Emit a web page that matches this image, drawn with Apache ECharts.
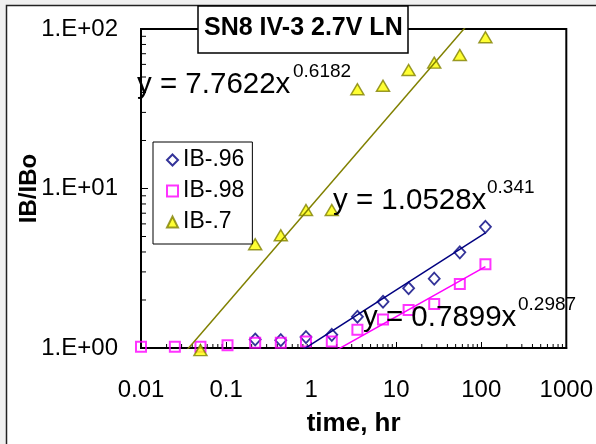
<!DOCTYPE html>
<html>
<head>
<meta charset="utf-8">
<script src="https://cdn.jsdelivr.net/npm/echarts@6/dist/echarts.min.js"></script>
<style>
  html, body { margin: 0; padding: 0; background: #f0f0f0; }
  #chart { width: 596px; height: 444px; }
</style>
</head>
<body>
<div id="chart"></div>
<script>
const FONT = '"Liberation Sans", Arial, sans-serif';

// Measured degradation ratios IB/IBo vs. elapsed time (hr)
const seriesNames = ['IB-.96', 'IB-.98', 'IB-.7'];
const timeIB96 = [0.22, 0.44, 0.87, 1.75, 3.5, 7, 14, 28, 56, 112];
const valIB96  = [1.13, 1.12, 1.17, 1.21, 1.57, 1.95, 2.37, 2.72, 3.98, 5.75];
const timeIB98 = [0.01, 0.025, 0.05, 0.104, 0.22, 0.44, 0.87, 1.75, 3.5, 7, 14, 28, 56, 112];
const valIB98  = [1.02, 1.02, 1.02, 1.04, 1.08, 1.08, 1.10, 1.10, 1.30, 1.51, 1.73, 1.89, 2.52, 3.35];
const timeIB7  = [0.05, 0.22, 0.44, 0.87, 1.75, 3.5, 7, 14, 28, 56, 112];
const valIB7   = [0.97, 4.47, 5.09, 7.33, 7.33, 41.9, 44.1, 55.3, 61.5, 68.7, 88.7];

// Power-law trend lines y = a * x^b (one per series)
const fitCoef = [1.0528, 0.7899, 7.7622];
const fitExp  = [0.341, 0.2987, 0.6182];
const fitRange = [0.01, 112];

// Axis tick labels, one per decade
const xTickLabels = ['0.01', '0.1', '1', '10', '100', '1000'];
const yTickLabels = ['1.E+00', '1.E+01', '1.E+02'];

const colors = {
  navy: '#000080', magenta: '#ff00ff', olive: '#808000', yellow: '#ffff00'
};

const zip = (xs, ys) => xs.map((x, i) => [x, ys[i]]);
const fitLine = (k) => fitRange.map(x => [x, fitCoef[k] * Math.pow(x, fitExp[k])]);

// Log minor ticks (2..9 within each decade)
const xMinor = [];
for (let e = -2; e <= 2; e++) for (let m = 2; m <= 9; m++) xMinor.push([m * Math.pow(10, e), 1]);
const yMinor = [];
for (let e = 0; e <= 1; e++) for (let m = 2; m <= 9; m++) yMinor.push([0.01, m * Math.pow(10, e)]);

function tickRenderer(dir, len) {
  return function (params, api) {
    const p = api.coord([api.value(0), api.value(1)]);
    const shape = dir === 'x'
      ? { x1: p[0], y1: p[1], x2: p[0], y2: p[1] - len }
      : { x1: p[0], y1: p[1], x2: p[0] + len, y2: p[1] };
    return { type: 'line', shape: shape, style: { stroke: '#000', lineWidth: 1 } };
  };
}

// Trend-line equation annotations
const eqLayout = [
  { x: 333, y: 200.5, sx: 487, sy: 188 },
  { x: 363, y: 318,   sx: 518, sy: 305 },
  { x: 137, y: 84.5,  sx: 293, sy: 72 }
];
const eqGraphics = [];
fitCoef.forEach((a, k) => {
  const L = eqLayout[k];
  eqGraphics.push({
    type: 'text', x: L.x, y: L.y, z: 100, silent: true,
    style: { text: 'y = ' + a.toFixed(4) + 'x', fontSize: 29.5, fontFamily: FONT,
             fill: '#000', align: 'left', verticalAlign: 'middle' }
  });
  eqGraphics.push({
    type: 'text', x: L.sx, y: L.sy, z: 100, silent: true,
    style: { text: String(fitExp[k]), fontSize: 19, fontFamily: FONT,
             fill: '#000', align: 'left', verticalAlign: 'middle' }
  });
});

const chart = echarts.init(document.getElementById('chart'), null, { renderer: 'canvas' });

chart.setOption({
  backgroundColor: '#f0f0f0',
  animation: false,
  graphic: [
    { type: 'rect', z: -100, silent: true,
      shape: { x: 6.5, y: 5.5, width: 640, height: 480 },
      style: { fill: '#fff', stroke: '#222', lineWidth: 1.5 } }
  ].concat(eqGraphics),
  title: {
    text: 'SN8 IV-3 2.7V LN',
    left: 198, top: 6,
    padding: [8, 6, 10, 6],
    backgroundColor: '#fff', borderColor: '#000', borderWidth: 1.5,
    textStyle: { fontSize: 25, fontWeight: 'bold', fontFamily: FONT, color: '#000', lineHeight: 29 }
  },
  legend: {
    data: seriesNames,
    orient: 'vertical',
    left: 153, top: 142,
    padding: [6, 8, 10, 13],
    itemGap: 7, itemWidth: 11, itemHeight: 11,
    backgroundColor: '#fff', borderColor: '#000', borderWidth: 1,
    selectedMode: false,
    textStyle: { fontSize: 23, fontFamily: FONT, color: '#000', lineHeight: 24 }
  },
  grid: {
    left: 141, right: 29, top: 29, bottom: 96,
    show: true, backgroundColor: '#fff', borderColor: '#000', borderWidth: 2
  },
  xAxis: {
    type: 'log', logBase: 10, min: 0.01, max: 1000, splitNumber: 5,
    axisLine: { show: true, lineStyle: { color: '#000', width: 2 } },
    axisTick: { show: true, inside: true, length: 6, lineStyle: { color: '#000', width: 1 } },
    splitLine: { show: false },
    axisLabel: {
      margin: 42, verticalAlign: 'middle', fontSize: 24, fontFamily: FONT, color: '#000',
      formatter: v => xTickLabels[Math.round(Math.log10(v)) + 2]
    },
    name: 'time, hr', nameLocation: 'middle', nameGap: 76, nameMoveOverlap: false,
    nameTextStyle: { fontSize: 26, fontWeight: 'bold', fontFamily: FONT, color: '#000', verticalAlign: 'middle' }
  },
  yAxis: {
    type: 'log', logBase: 10, min: 1, max: 100, splitNumber: 2,
    axisLine: { show: true, lineStyle: { color: '#000', width: 2 } },
    axisTick: { show: true, inside: true, length: 7, lineStyle: { color: '#000', width: 1 } },
    splitLine: { show: false },
    axisLabel: {
      margin: 23, fontSize: 24, fontFamily: FONT, color: '#000',
      formatter: v => yTickLabels[Math.round(Math.log10(v))]
    },
    name: 'IB/IBo', nameLocation: 'middle', nameGap: 112, nameRotate: 90, nameMoveOverlap: false,
    nameTextStyle: { fontSize: 24, fontWeight: 'bold', fontFamily: FONT, color: '#000', verticalAlign: 'middle' }
  },
  series: [
    {
      name: 'IB-.96', type: 'scatter', data: zip(timeIB96, valIB96),
      symbol: 'diamond', symbolSize: [11, 12], clip: false, silent: true,
      itemStyle: { color: 'rgba(255,255,255,0)', borderColor: colors.navy, borderWidth: 1.8 }
    },
    {
      name: 'IB-.98', type: 'scatter', data: zip(timeIB98, valIB98),
      symbol: 'rect', symbolSize: 10, clip: false, silent: true,
      itemStyle: { color: 'rgba(255,255,255,0)', borderColor: colors.magenta, borderWidth: 2 }
    },
    {
      name: 'IB-.7', type: 'scatter', data: zip(timeIB7, valIB7),
      symbol: 'triangle', symbolSize: [13, 11], clip: false, silent: true,
      itemStyle: { color: colors.yellow, borderColor: colors.olive, borderWidth: 1.5 }
    },
    {
      name: 'Power (IB-.96)', type: 'line', data: fitLine(0), symbol: 'none', clip: true, silent: true,
      lineStyle: { color: colors.navy, width: 1.5 }
    },
    {
      name: 'Power (IB-.98)', type: 'line', data: fitLine(1), symbol: 'none', clip: true, silent: true,
      lineStyle: { color: colors.magenta, width: 1.5 }
    },
    {
      name: 'Power (IB-.7)', type: 'line', data: fitLine(2), symbol: 'none', clip: true, silent: true,
      lineStyle: { color: colors.olive, width: 1.5 }
    },
    {
      name: 'x minor ticks', type: 'custom', data: xMinor, silent: true, clip: false,
      renderItem: tickRenderer('x', 4)
    },
    {
      name: 'y minor ticks', type: 'custom', data: yMinor, silent: true, clip: false,
      renderItem: tickRenderer('y', 5)
    }
  ]
});
</script>
</body>
</html>
